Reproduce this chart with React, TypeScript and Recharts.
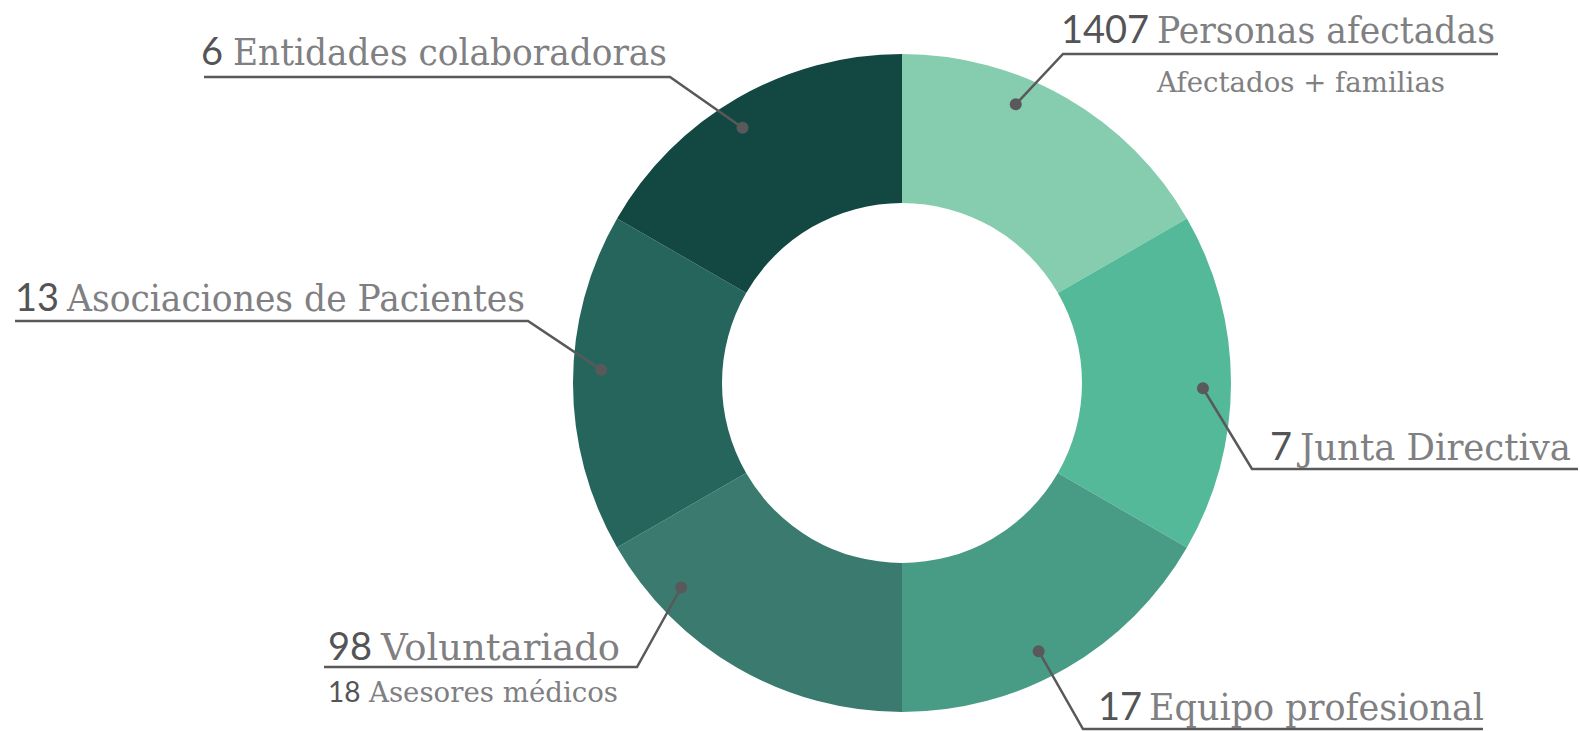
import React from "react";
import { PieChart, Pie, Cell } from "recharts";

// each group gets the same arc in the graphic, whatever its count
const groups = [
  "Personas afectadas",
  "Junta Directiva",
  "Equipo profesional",
  "Voluntariado",
  "Asociaciones de Pacientes",
  "Entidades colaboradoras",
];
const counts = ["1407", "7", "17", "98", "13", "6"];
const sliceShare = [1, 1, 1, 1, 1, 1];
const noteCounts = ["", "", "", "18", "", ""];
const noteTexts = ["Afectados + familias", "", "", "Asesores médicos", "", ""];

const colors = ["#86cdb0", "#54b998", "#489b84", "#3b7b6f", "#26655b", "#134842"];

// callout layout, relative to the pie centre
const callouts = [
  { angle: 67.8, ex: 161, ey: -329, end: 596, numX: 159, textX: 255, textW: 338, base: -340, noteX: 255, noteTextX: 255, noteW: 288, noteBase: -291 },
  { angle: -1, ex: 350, ey: 86, end: 676, numX: 368, textX: 398, textW: 271, base: 77 },
  { angle: -63, ex: 181, ey: 346, end: 581, numX: 196, textX: 247, textW: 335, base: 337 },
  { angle: 222.8, ex: -265, ey: 284, end: -578, numX: -574, textX: -521, textW: 239, base: 277, noteX: -574, noteTextX: -533, noteW: 249, noteBase: 319 },
  { angle: 177.5, ex: -374, ey: -62, end: -887, numX: -887, textX: -835, textW: 458, base: -72 },
  { angle: 122, ex: -232, ey: -306, end: -698, numX: -701, textX: -669, textW: 434, base: -318 },
];

const data = groups.map((name, i) => ({ name, value: sliceShare[i] }));

const RAD = Math.PI / 180;
const numFont = "Lato, 'Noto Sans', sans-serif";
const textFont = "'DejaVu Serif', serif";

function Callout(props: any) {
  const { cx, cy, outerRadius, index } = props;
  const c = callouts[index];
  const r = outerRadius - 28;
  const dx = cx + r * Math.cos(c.angle * RAD);
  const dy = cy - r * Math.sin(c.angle * RAD);
  const ex = cx + c.ex;
  const ey = cy + c.ey;
  return (
    <g>
      <polyline
        points={`${dx},${dy} ${ex},${ey} ${cx + c.end},${ey}`}
        fill="none"
        stroke="#59595b"
        strokeWidth={2.5}
      />
      <circle cx={dx} cy={dy} r={6} fill="#59595b" />
      <text x={cx + c.numX} y={cy + c.base} fontFamily={numFont} fontSize={38} fill="#545456">
        {counts[index]}
      </text>
      <text
        x={cx + c.textX}
        y={cy + c.base}
        fontFamily={textFont}
        fontSize={37}
        fill="#808083"
        textLength={c.textW}
        lengthAdjust="spacingAndGlyphs"
      >
        {groups[index]}
      </text>
      {noteTexts[index] && noteCounts[index] && (
        <text x={cx + c.noteX} y={cy + c.noteBase} fontFamily={numFont} fontSize={28} fill="#545456">
          {noteCounts[index]}
        </text>
      )}
      {noteTexts[index] && (
        <text
          x={cx + c.noteTextX}
          y={cy + c.noteBase}
          fontFamily={textFont}
          fontSize={27}
          fill="#808083"
          textLength={c.noteW}
          lengthAdjust="spacingAndGlyphs"
        >
          {noteTexts[index]}
        </text>
      )}
    </g>
  );
}

export default function App() {
  return (
    <div style={{ position: "absolute", left: 0, top: 0, width: 1580, height: 731, background: "#fff" }}>
      <PieChart width={1580} height={731} margin={{ top: 0, right: 0, bottom: 0, left: 0 }}>
        <Pie
          data={data}
          dataKey="value"
          cx={902}
          cy={383}
          innerRadius={180}
          outerRadius={329}
          startAngle={90}
          endAngle={-270}
          stroke="none"
          label={Callout}
          labelLine={false}
          isAnimationActive={false}
        >
          {data.map((d, i) => (
            <Cell key={d.name} fill={colors[i]} />
          ))}
        </Pie>
      </PieChart>
    </div>
  );
}
